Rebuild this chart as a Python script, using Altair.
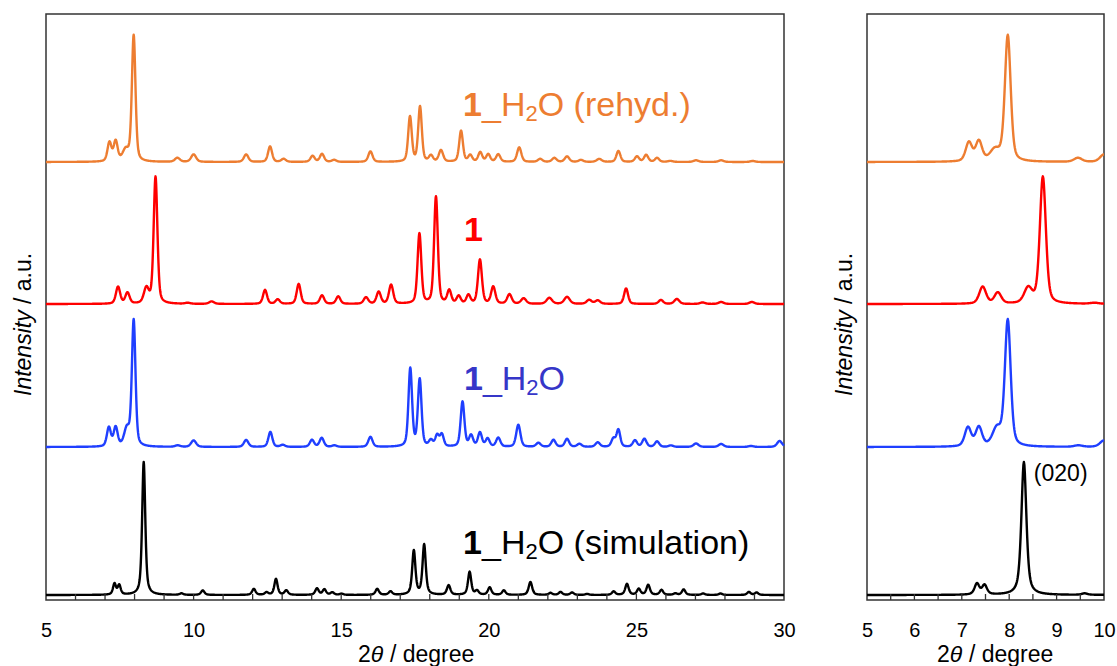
import numpy as np
import pandas as pd
import altair as alt

FONT = "Liberation Sans"

# Peak tables: (2θ / degree, height, FWHM / degree)
SIM_PEAKS = [
    (7.32, 11, 0.12), (7.48, 9.5, 0.12), (8.31, 133, 0.125), (9.59, 1.5, 0.14),
    (10.31, 4.5, 0.14), (12.04, 6, 0.14), (12.47, 2.5, 0.14), (12.79, 16, 0.13),
    (13.14, 4.5, 0.14), (14.18, 6.5, 0.14), (14.43, 5.5, 0.14), (14.70, 2.5, 0.14),
    (15.01, 1.2, 0.14), (16.22, 6, 0.14), (16.67, 3.5, 0.14), (17.46, 44, 0.13),
    (17.81, 50, 0.13), (18.64, 9.5, 0.14), (19.35, 23, 0.13), (19.60, 4, 0.14),
    (20.03, 7.5, 0.14), (20.51, 4.5, 0.14), (21.41, 13, 0.14), (22.09, 2, 0.14),
    (22.43, 3, 0.14), (22.82, 2.5, 0.14), (23.33, 1, 0.14), (24.23, 3.5, 0.14),
    (24.68, 11, 0.14), (25.08, 6, 0.14), (25.40, 10, 0.14), (25.85, 5, 0.14),
    (26.32, 1.5, 0.14), (26.60, 5.5, 0.14), (27.26, 1.5, 0.14), (27.85, 1.5, 0.14),
    (28.81, 3, 0.14), (29.07, 2.5, 0.14),
]

HYD_PEAKS = [
    (7.13, 19, 0.16), (7.36, 19, 0.16), (7.74, 17, 0.22), (7.97, 126, 0.145),
    (9.46, 1.5, 0.2), (10.0, 6.5, 0.2), (11.78, 7, 0.18), (12.60, 15, 0.16),
    (13.02, 2, 0.18), (14.01, 7, 0.17), (14.34, 9, 0.17), (14.77, 1.5, 0.18),
    (15.99, 10, 0.17), (17.34, 78, 0.145), (17.66, 67, 0.145), (18.04, 6, 0.16),
    (18.25, 11, 0.15), (18.41, 12, 0.15), (19.11, 45, 0.15), (19.40, 11, 0.16),
    (19.70, 14, 0.16), (19.96, 8, 0.16), (20.32, 9, 0.17), (21.00, 22, 0.17),
    (21.68, 4, 0.18), (22.19, 7, 0.17), (22.65, 8, 0.17), (23.07, 3, 0.18),
    (23.69, 4.5, 0.18), (24.22, 8, 0.16), (24.39, 17, 0.15), (24.95, 6.5, 0.17),
    (25.27, 8, 0.17), (25.70, 5.5, 0.17), (26.17, 1.5, 0.18), (27.02, 3.5, 0.2),
    (27.87, 3, 0.2), (28.88, 1, 0.2), (29.85, 6, 0.2),
]

ANH_PEAKS = [
    (7.44, 17, 0.17), (7.76, 11, 0.17), (8.40, 15, 0.2), (8.71, 127, 0.15),
    (9.80, 1, 0.2), (10.61, 2.5, 0.2), (12.42, 14, 0.16), (12.85, 4.5, 0.17),
    (13.56, 20, 0.16), (14.35, 8.5, 0.17), (14.90, 7.5, 0.17), (15.84, 6.5, 0.18),
    (16.27, 12, 0.17), (16.69, 19, 0.17), (17.65, 70, 0.15), (18.21, 107, 0.15),
    (18.66, 13, 0.16), (18.98, 7.5, 0.16), (19.31, 8.5, 0.16), (19.70, 44, 0.16),
    (20.15, 17, 0.17), (20.70, 9.5, 0.18), (21.18, 5.5, 0.2), (22.05, 6, 0.22),
    (22.65, 7, 0.22), (23.40, 4, 0.2), (23.69, 3.5, 0.2), (24.65, 15.5, 0.16),
    (25.83, 4, 0.18), (26.37, 5, 0.2), (27.24, 1.5, 0.2), (27.87, 2, 0.2),
    (28.91, 2, 0.2),
]

REHYD_PEAKS = [
    (7.15, 19, 0.16), (7.36, 20, 0.16), (7.70, 11, 0.25), (7.97, 126, 0.145),
    (9.45, 4, 0.2), (10.0, 7.5, 0.2), (11.78, 7.5, 0.18), (12.59, 15.5, 0.16),
    (13.05, 3, 0.18), (14.03, 6, 0.17), (14.35, 8, 0.17), (14.76, 2, 0.18),
    (15.99, 10.5, 0.17), (17.33, 45, 0.145), (17.67, 55, 0.145), (18.04, 6, 0.16),
    (18.38, 11.5, 0.17), (19.06, 31, 0.15), (19.37, 6.5, 0.16), (19.71, 9.5, 0.16),
    (19.98, 7.5, 0.16), (20.32, 7.5, 0.17), (21.03, 14.5, 0.17), (21.74, 3, 0.18),
    (22.22, 4, 0.18), (22.65, 5.5, 0.18), (23.12, 2, 0.18), (23.74, 3, 0.2),
    (24.39, 11, 0.16), (25.02, 5.5, 0.17), (25.33, 7, 0.17), (25.70, 4, 0.17),
    (26.15, 1, 0.2), (27.02, 1.7, 0.2), (27.87, 1.7, 0.2), (28.94, 1, 0.2),
]

TRACE_NAMES = ["sim", "hyd", "anh", "rehyd"]
TRACE_PEAKS = [SIM_PEAKS, HYD_PEAKS, ANH_PEAKS, REHYD_PEAKS]
TRACE_COLORS = ["#000000", "#1F3FFF", "#FF0000", "#ED7D31"]
TRACE_OFFSETS = [5, 153, 296, 438]
TRACE_ETA = [0.6, 0.4, 0.4, 0.4]   # Lorentzian fraction of the pseudo-Voigt profile

LEFT_LABELS = [5, 10, 15, 20, 25, 30]
RIGHT_LABELS = [5, 6, 7, 8, 9, 10]
LEFT_MINOR = list(range(6, 30))
RIGHT_MINOR = [5.5, 6, 6.5, 7, 7.5, 8, 8.5, 9, 9.5]

W_LEFT, W_RIGHT, H = 738, 237, 586
Y_MAX = 586

two_theta = np.round(np.arange(5.0, 30.0001, 0.01), 2)


def pattern(peaks, eta):
    total = np.zeros_like(two_theta)
    for pos, height, fwhm in peaks:
        d = (two_theta - pos) / fwhm
        lor = 1.0 / (1.0 + 4.0 * d * d)
        gau = np.exp(-4.0 * np.log(2.0) * d * d)
        total += height * (eta * lor + (1.0 - eta) * gau)
    return total


frames = []
for name, peaks, off, eta in zip(TRACE_NAMES, TRACE_PEAKS, TRACE_OFFSETS, TRACE_ETA):
    frames.append(pd.DataFrame({"x": two_theta, "y": off + pattern(peaks, eta), "trace": name}))
xrd = pd.concat(frames, ignore_index=True)

y_enc = alt.Y("y:Q", scale=alt.Scale(domain=[0, Y_MAX], nice=False, zero=False), axis=None)
color_enc = alt.Color("trace:N", scale=alt.Scale(domain=TRACE_NAMES, range=TRACE_COLORS), legend=None)


def x_enc(lo, hi, labels):
    return alt.X(
        "x:Q",
        scale=alt.Scale(domain=[lo, hi], nice=False, zero=False),
        axis=alt.Axis(values=labels, format="d", tickSize=0, domain=False, grid=False,
                      labelFont=FONT, labelFontSize=20, labelColor="black",
                      labelPadding=20, labelFlush=False, labelOverlap=False, title=None),
    )


def traces(lo, hi, labels):
    data = xrd[xrd["x"] <= hi]
    return alt.Chart(data).mark_line(strokeWidth=2.4, strokeJoin="round").encode(
        x=x_enc(lo, hi, labels), y=y_enc, color=color_enc, detail="trace:N"
    )


def minor_ticks(values):
    return alt.Chart(pd.DataFrame({"x": values})).mark_rule(color="#333333", strokeWidth=1.3).encode(
        x="x:Q", y=alt.value(H - 6), y2=alt.value(H)
    )


def txt(x, y, text, size, color="black", dx=0, dy=0, weight="normal", style="normal"):
    return alt.Chart(pd.DataFrame({"x": [x], "y": [y]})).mark_text(
        text=text, align="left", baseline="alphabetic", font=FONT, fontSize=size,
        fontWeight=weight, fontStyle=style, color=color, dx=dx, dy=dy,
    ).encode(x="x:Q", y="y:Q")


def compound_label(x, y, color, tail):
    # bold "1", then "_H", subscript "2", "O ..."
    size, sub = 34, 22
    w1 = 0.556 * size
    wh = (0.556 + 0.722) * size
    w2 = 0.556 * sub
    return [
        txt(x, y, "1", size, color, weight="bold"),
        txt(x, y, "_H", size, color, dx=w1),
        txt(x, y, "2", sub, color, dx=w1 + wh, dy=5),
        txt(x, y, "O" + tail, size, color, dx=w1 + wh + w2),
    ]


def pixel_text(px, py, text, size, style="normal", angle=0):
    props = dict(text=text, align="left", baseline="alphabetic", font=FONT, fontSize=size,
                 fontStyle=style, color="black")
    if angle:
        props["angle"] = angle
    return alt.Chart(pd.DataFrame({"k": [0]})).mark_text(**props).encode(
        x=alt.value(px), y=alt.value(py)
    )


def x_title(px0):
    s = 23
    return [
        pixel_text(px0, H + 62, "2", s),
        pixel_text(px0 + 0.556 * s, H + 62, "θ", s, style="italic"),
        pixel_text(px0 + (0.556 * 2 + 0.278) * s, H + 62, "/ degree", s),
    ]


def y_title():
    s = 23
    y0 = 382
    return [
        pixel_text(-15, y0, "Intensity", s, style="italic", angle=270),
        pixel_text(-15, y0 - (3.724 + 0.278) * s, "/ a.u.", s, angle=270),
    ]


left_layers = [traces(5, 30, LEFT_LABELS), minor_ticks(LEFT_MINOR)]
left_layers += compound_label(19.13, 484, "#ED7D31", " (rehyd.)")
left_layers += [txt(19.16, 359, "1", 34, "#FF0000", weight="bold")]
left_layers += compound_label(19.16, 210, "#3636C8", "")
left_layers += compound_label(19.13, 46, "black", " (simulation)")
left_layers += x_title(312) + y_title()
left = alt.layer(*left_layers).properties(width=W_LEFT, height=H)

right_layers = [traces(5, 10, RIGHT_LABELS), minor_ticks(RIGHT_MINOR)]
right_layers += [txt(8.52, 119, "(020)", 23, "black")]
right_layers += x_title(70) + y_title()
right = alt.layer(*right_layers).properties(width=W_RIGHT, height=H)

chart = (
    alt.hconcat(left, right, spacing=83, bounds="flush")
    .properties(padding={"left": 12, "top": 13, "right": 0, "bottom": 0})
    .configure_view(stroke="#333333", strokeWidth=1.5)
)

chart.save("out.html", embed_options={"renderer": "svg", "actions": False})
